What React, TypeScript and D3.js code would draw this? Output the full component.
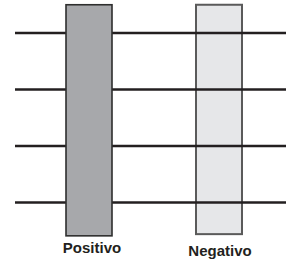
import { useMemo } from 'react';
import * as d3 from 'd3';

const CATEGORIES = ['Positivo', 'Negativo'];
const BAR_TOP = [4.5, 4.5];
const BAR_BOTTOM = [0.41, 0.44];
const LEVELS = [1, 2, 3, 4];

const W = 290;
const H = 259;

const BAR_STYLE: Record<string, { fill: string; stroke: string; width: number }> = {
  Positivo: { fill: '#a7a8ab', stroke: '#2e2e2e', width: 1.6 },
  Negativo: { fill: '#e6e7e9', stroke: '#5a5a5a', width: 2 },
};

export default function App() {
  const x = useMemo(() => d3.scalePoint<string>().domain(CATEGORIES).range([89, 219]), []);
  const y = useMemo(() => d3.scaleLinear().domain([0, 5]).range([259, -23.5]), []);
  const barW = 46;

  const bar = (i: number) => {
    const c = CATEGORIES[i];
    const s = BAR_STYLE[c];
    const top = y(BAR_TOP[i]);
    const bottom = y(BAR_BOTTOM[i]);
    return (
      <rect
        key={c}
        x={(x(c) ?? 0) - barW / 2}
        y={top}
        width={barW}
        height={bottom - top}
        fill={s.fill}
        stroke={s.stroke}
        strokeWidth={s.width}
      />
    );
  };

  return (
    <svg
      width={W}
      height={H}
      viewBox={`0 0 ${W} ${H}`}
      style={{ position: 'absolute', left: 0, top: 0, background: '#fff' }}
    >
      {/* light bar sits under the lines */}
      {bar(1)}
      {LEVELS.map((v) => (
        <line key={v} x1={15} x2={286} y1={y(v)} y2={y(v)} stroke="#231f20" strokeWidth={2.4} />
      ))}
      {/* dark bar covers them */}
      {bar(0)}
      <text
        x={(x('Positivo') ?? 0) + 3}
        y={252.6}
        textAnchor="middle"
        fontFamily="Liberation Sans, Arial, sans-serif"
        fontWeight="bold"
        fontSize={15}
        fill="#231f20"
      >
        Positivo
      </text>
      <text
        x={(x('Negativo') ?? 0) + 1}
        y={256}
        textAnchor="middle"
        fontFamily="Liberation Sans, Arial, sans-serif"
        fontWeight="bold"
        fontSize={15}
        fill="#231f20"
      >
        Negativo
      </text>
    </svg>
  );
}
